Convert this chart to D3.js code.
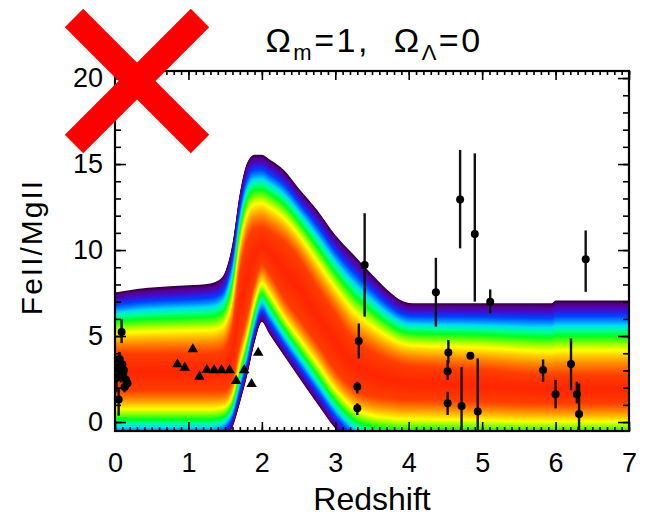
<!DOCTYPE html>
<html>
<head>
<meta charset="utf-8">
<script src="https://cdn.jsdelivr.net/npm/d3@7"></script>
<style>
body { margin: 0; background: #fff; }
text { font-family: "Liberation Sans", Arial, sans-serif; }
</style>
</head>
<body>
<svg width="645" height="517"></svg>
<script>
var svg = d3.select("svg");

// Model band (edges of the coloured distribution, and edges of the red core)
var bandZ   = [0, 0.3, 0.6, 1.0, 1.3, 1.45, 1.53, 1.6, 1.7, 1.8, 1.9, 2.0, 2.1, 2.3, 2.5, 2.75, 3.0, 3.25, 3.5, 3.75, 3.9, 4.05, 5.0, 5.95, 6.0, 7.0];
var bandTop = [7.53, 7.74, 7.85, 7.95, 8.06, 8.37, 9.10, 10.36, 13.29, 15.07, 15.54, 15.54, 15.28, 14.65, 13.6, 12.35, 10.88, 9.73, 8.58, 7.53, 7.06, 6.91, 6.91, 6.91, 7.06, 7.06];
var redTop  = [3.98, 3.98, 3.98, 3.98, 3.98, 4.08, 4.50, 5.55, 8.69, 10.57, 11.2, 11.3, 11.09, 10.47, 9.52, 7.85, 6.28, 4.81, 4.08, 3.56, 3.35, 3.24, 3.03, 2.72, 2.72, 2.72];
var redBot  = [1.83, 1.83, 1.83, 1.83, 1.83, 1.83, 1.94, 2.51, 4.61, 6.28, 8.16, 9.21, 8.69, 7.22, 6.07, 4.61, 3.03, 1.94, 1.52, 1.41, 1.31, 1.31, 1.20, 1.10, 1.10, 1.10];
var bandBot = [-1.36, -1.36, -1.36, -1.36, -1.36, -1.15, -0.84, -0.3, 1.10, 2.72, 4.61, 5.81, 5.13, 3.87, 2.62, 1.10, -0.37, -1.46, -1.88, -2.09, -2.09, -2.09, -2.09, -2.09, -2.09, -2.09];

// Measurements with error bars
var ptZ  = [0.09, 0.06, 0.03, 0.12, 0.08, 0.15, 0.13, 0.05, 0.02, 0.17, 0.10,
            3.40, 3.32, 3.30, 3.30, 4.37, 4.70, 4.90, 5.11, 4.54, 4.53, 4.53, 4.72, 4.84, 4.94,
            6.41, 5.83, 6.00, 6.21, 6.29, 6.32];
var ptV  = [5.23, 3.66, 3.14, 3.03, 2.72, 2.46, 2.04, 1.31, 2.56, 2.25, 3.35,
            9.13, 4.71, 2.05, 0.80, 7.55, 12.94, 10.93, 7.00, 4.05, 2.96, 1.09, 0.93, 3.86, 0.61,
            9.46, 3.02, 1.62, 3.37, 1.62, 0.47];
var ptLo = [4.59, 3.24, 2.62, 2.62, 2.30, 2.04, 1.73, 0.37, 1.73, 1.94, 2.93,
            6.13, 3.70, 1.66, 0.41, 5.55, 10.10, 7.00, 6.32, 3.41, 2.45, 0.41, -0.52, 3.86, -0.52,
            7.57, 2.34, 0.80, 1.86, 1.09, -0.52];
var ptHi = [5.97, 4.08, 3.66, 3.45, 3.14, 2.88, 2.35, 1.94, 3.35, 2.56, 3.77,
            12.14, 5.73, 2.34, 1.09, 9.55, 15.82, 15.62, 7.71, 4.77, 3.60, 1.76, 3.21, 3.86, 3.70,
            11.14, 3.64, 2.45, 4.87, 2.34, 2.24];

// Measurements without error bars (triangles)
var triZ = [1.06, 0.85, 0.95, 1.15, 1.25, 1.35, 1.45, 1.56, 1.65, 1.76, 1.86, 1.95];
var triV = [4.23, 3.36, 3.16, 2.64, 3.04, 3.02, 3.02, 3.02, 2.39, 3.02, 2.21, 4.03];

var xTicks = [0, 1, 2, 3, 4, 5, 6, 7];
var yTicks = [0, 5, 10, 15, 20];

// colour ramp from band edge (0) to red core (1)
var rampT = [0, 0.05, 0.12, 0.2, 0.27, 0.33, 0.4, 0.47, 0.57, 0.66, 0.75, 0.84, 0.93, 1];
var rampC = ["#300040", "#5a0090", "#4010d0", "#0040ff", "#0090ff", "#00e0f0", "#00ff90", "#00ff20",
             "#90ff00", "#ffff00", "#ffc000", "#ff8800", "#ff5a00", "#ff3c00"];

var x = d3.scaleLinear().domain([0, 7]).range([115, 629]);
var y = d3.scaleLinear().domain([-0.52, 20.41]).range([431, 71]);
var color = d3.scaleLinear().domain(rampT).range(rampC);

svg.append("defs").append("clipPath").attr("id", "plot")
    .append("rect").attr("x", 115).attr("y", 71).attr("width", 514).attr("height", 360);

var nodes = bandZ.map(function(z, i) {
    return {z: z, u: bandTop[i], rt: redTop[i], rb: redBot[i], l: bandBot[i]};
});

var band = svg.append("g").attr("clip-path", "url(#plot)");
var N = 90;
for (var k = 0; k <= N; k++) {
    var t = k / N;
    var area = d3.area()
        .x(function(d) { return x(d.z); })
        .y1(function(d) { return y(d.u - t * (d.u - d.rt)); })
        .y0(function(d) { return y(d.l + t * (d.rb - d.l)); })
        .curve(d3.curveMonotoneX);
    band.append("path").datum(nodes).attr("d", area).attr("fill", color(t));
}
// slightly deeper red toward the middle of the core
var core = d3.scaleLinear().domain([0, 0.5]).range(["#ff3c00", "#ff2400"]);
for (var s = 1; s <= 10; s++) {
    var f = s * 0.05;
    var areaC = d3.area()
        .x(function(d) { return x(d.z); })
        .y1(function(d) { return y(d.rt - f * (d.rt - d.rb)); })
        .y0(function(d) { return y(d.rb + f * (d.rt - d.rb)); })
        .curve(d3.curveMonotoneX);
    band.append("path").datum(nodes).attr("d", areaC).attr("fill", core(f));
}

// Axes
function styleAxis(g) {
    g.select(".domain").remove();
    g.selectAll("line").attr("stroke", "#000").attr("stroke-width", 1.6);
    g.selectAll("text").attr("font-size", 27).attr("fill", "#000")
        .attr("font-family", "'Liberation Sans', Arial, sans-serif");
}
var minorX = d3.range(0, 70.5, 1).map(function(d) { return d / 10; });
var minorY = d3.range(0, 21, 1);

svg.append("g").attr("transform", "translate(0,431)")
    .call(d3.axisBottom(x).tickValues(minorX).tickSize(-4).tickFormat("")).call(styleAxis);
svg.append("g").attr("transform", "translate(0,71)")
    .call(d3.axisTop(x).tickValues(minorX).tickSize(-4).tickFormat("")).call(styleAxis);
svg.append("g").attr("transform", "translate(0,431)")
    .call(d3.axisBottom(x).tickValues(xTicks).tickSize(-9).tickSizeOuter(0).tickPadding(22)
        .tickFormat(d3.format("d"))).call(styleAxis);
svg.append("g").attr("transform", "translate(0,71)")
    .call(d3.axisTop(x).tickValues(xTicks).tickSize(-9).tickFormat("")).call(styleAxis);

svg.append("g").attr("transform", "translate(115,0)")
    .call(d3.axisLeft(y).tickValues(minorY).tickSize(-6).tickFormat("")).call(styleAxis);
svg.append("g").attr("transform", "translate(629,0)")
    .call(d3.axisRight(y).tickValues(minorY).tickSize(-6).tickFormat("")).call(styleAxis);
svg.append("g").attr("transform", "translate(115,0)")
    .call(d3.axisLeft(y).tickValues(yTicks).tickSize(-11).tickSizeOuter(0).tickPadding(12)
        .tickFormat(d3.format("d"))).call(styleAxis);
svg.append("g").attr("transform", "translate(629,0)")
    .call(d3.axisRight(y).tickValues(yTicks).tickSize(-11).tickFormat("")).call(styleAxis);

svg.append("rect").attr("x", 115).attr("y", 71).attr("width", 514).attr("height", 360)
    .attr("fill", "none").attr("stroke", "#000").attr("stroke-width", 2.2);

// Data points
var pts = svg.append("g").attr("clip-path", "url(#plot)");
pts.selectAll("line.err").data(ptZ).enter().append("line")
    .attr("x1", function(d) { return x(d); })
    .attr("x2", function(d) { return x(d); })
    .attr("y1", function(d, i) { return y(ptLo[i]); })
    .attr("y2", function(d, i) { return y(ptHi[i]); })
    .attr("stroke", "#111").attr("stroke-width", 2.4);
pts.selectAll("circle").data(ptZ).enter().append("circle")
    .attr("cx", function(d) { return x(d); })
    .attr("cy", function(d, i) { return y(ptV[i]); })
    .attr("r", 4).attr("fill", "#000");
pts.selectAll("path.tri").data(triZ).enter().append("path")
    .attr("d", d3.symbol().type(d3.symbolTriangle).size(48))
    .attr("transform", function(d, i) { return "translate(" + x(d) + "," + y(triV[i]) + ")"; })
    .attr("fill", "#000");

// Labels
svg.append("text").attr("x", 372).attr("y", 510).attr("text-anchor", "middle")
    .attr("font-size", 32).text("Redshift");
svg.append("text").attr("transform", "translate(42,247) rotate(-90)").attr("text-anchor", "middle")
    .attr("font-size", 30).attr("letter-spacing", 2).text("FeII/MgII");

var title = svg.append("text").attr("x", 374).attr("y", 52).attr("text-anchor", "middle")
    .attr("font-size", 34).attr("letter-spacing", 2.5).style("white-space", "pre");
title.append("tspan").text("\u03A9");
title.append("tspan").attr("font-size", 22).attr("dy", 8).text("m");
title.append("tspan").attr("dy", -8).text("=1,  \u03A9");
title.append("tspan").attr("font-size", 22).attr("dy", 8).text("\u039B");
title.append("tspan").attr("dy", -8).text("=0");

// Red cross
var cross = svg.append("g").attr("stroke", "#ff0000").attr("stroke-width", 26);
cross.append("line").attr("x1", 74).attr("y1", 18).attr("x2", 200).attr("y2", 144);
cross.append("line").attr("x1", 200).attr("y1", 18).attr("x2", 74).attr("y2", 144);
</script>
</body>
</html>
